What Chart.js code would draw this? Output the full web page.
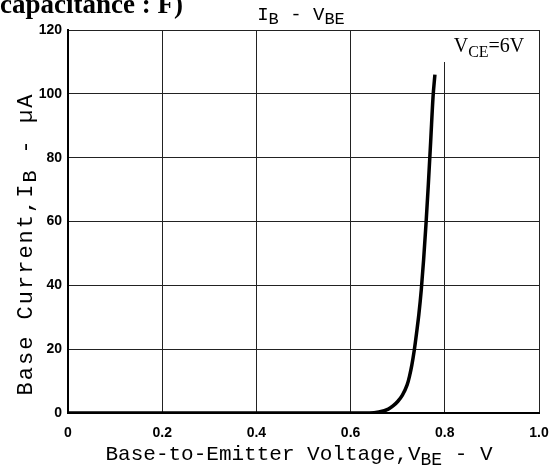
<!DOCTYPE html>
<html>
<head>
<meta charset="utf-8">
<script src="https://cdn.jsdelivr.net/npm/chart.js@4"></script>
<style>
  html, body { margin: 0; padding: 0; background: #fff; }
  canvas { display: block; }
</style>
</head>
<body>
<canvas id="myChart" width="554" height="467"></canvas>
<script>
// IB - VBE curve (VCE = 6V)
var vbe = [0, 0.2, 0.4, 0.6, 0.64, 0.66, 0.68, 0.69, 0.70, 0.71, 0.72, 0.725, 0.73, 0.735, 0.74, 0.745, 0.75, 0.755, 0.76, 0.765, 0.77, 0.775, 0.779];
var ib = [0, 0, 0, 0, 0, 0.3, 1.2, 2.2, 3.6, 5.6, 8.8, 11.5, 15, 19.5, 25, 31, 38.5, 48, 59, 71.5, 85, 99, 106];

var xTicks = [0, 0.2, 0.4, 0.6, 0.8, 1.0];
var yTicks = [0, 20, 40, 60, 80, 100, 120];

var monoFont = '"Liberation Mono", "DejaVu Sans Mono", monospace';
var serifFont = '"Liberation Serif", "DejaVu Serif", serif';
var tickFont = { family: '"Liberation Sans", Arial, sans-serif', size: 14, weight: 'bold' };

// draw a run of text pieces, some of them subscripts
function drawParts(ctx, parts, x, y) {
    var total = 0;
    parts.forEach(function (p) {
        ctx.font = p.font;
        total += ctx.measureText(p.text).width;
    });
    var cx = x - total / 2;
    parts.forEach(function (p) {
        ctx.font = p.font;
        ctx.fillText(p.text, cx, y + (p.dy || 0));
        cx += ctx.measureText(p.text).width;
    });
}

// keep the plot frame where the original has it
function noPadding(s) {
    s.paddingLeft = 0;
    s.paddingRight = 0;
    s.paddingTop = 0;
    s.paddingBottom = 0;
}

var labelsPlugin = {
    id: 'labels',
    afterDraw: function (chart) {
        var ctx = chart.ctx;
        var area = chart.chartArea;
        ctx.save();
        ctx.fillStyle = '#000';
        ctx.textBaseline = 'alphabetic';
        ctx.textAlign = 'left';

        // cropped caption at the very top
        ctx.font = 'bold 27px ' + serifFont;
        ctx.fillText('capacitance : F)', 0, 13);

        // chart title
        drawParts(ctx, [
            { text: 'I', font: '19px ' + monoFont },
            { text: 'B', font: '17px ' + monoFont, dy: 4 },
            { text: ' - V', font: '19px ' + monoFont },
            { text: 'BE', font: '17px ' + monoFont, dy: 4 }
        ], 301, 20);

        // VCE = 6V box
        ctx.fillStyle = '#fff';
        ctx.fillRect(440, area.top + 1, area.right - 441, 31);
        ctx.fillStyle = '#000';
        drawParts(ctx, [
            { text: 'V', font: '20px ' + serifFont },
            { text: 'CE', font: '16px ' + serifFont, dy: 5 },
            { text: '=6V', font: '20px ' + serifFont }
        ], 489, 52);

        // x axis title
        drawParts(ctx, [
            { text: 'Base-to-Emitter Voltage,V', font: '21px ' + monoFont },
            { text: 'BE', font: '18px ' + monoFont, dy: 5 },
            { text: ' - V', font: '21px ' + monoFont }
        ], 299, 460);

        // y axis title
        ctx.translate(32, 244);
        ctx.rotate(-Math.PI / 2);
        ctx.letterSpacing = '2px';
        drawParts(ctx, [
            { text: 'Base Current,I', font: '22px ' + monoFont },
            { text: 'B', font: '20px ' + monoFont, dy: 4 },
            { text: ' - \u00b5A', font: '22px ' + monoFont }
        ], 0, 0);
        ctx.restore();
    }
};

function renderChart() {
    var ctx = document.getElementById('myChart').getContext('2d');
    var myChart = new Chart(ctx, {
        type: 'line',
        data: {
            datasets: [
                {
                    label: 'IB',
                    data: vbe.map(function (v, i) { return { x: v, y: ib[i] }; }),
                    borderColor: '#000',
                    borderWidth: 3.5,
                    pointRadius: 0,
                    fill: false,
                    cubicInterpolationMode: 'monotone'
                }
            ]
        },
        options: {
            responsive: false,
            animation: false,
            devicePixelRatio: 1,
            layout: { padding: { top: 30, right: 15, left: 0, bottom: 0 } },
            plugins: {
                legend: { display: false },
                tooltip: { enabled: false }
            },
            scales: {
                x: {
                    type: 'linear',
                    min: 0,
                    max: 1,
                    afterFit: function (s) { s.height = 54; noPadding(s); },
                    afterBuildTicks: function (s) { s.ticks = xTicks.map(function (v) { return { value: v }; }); },
                    ticks: {
                        color: '#000',
                        padding: 12,
                        maxRotation: 0,
                        font: tickFont,
                        callback: function (v) { return v === 0 ? '0' : v.toFixed(1); }
                    },
                    grid: { color: '#222', lineWidth: 1, drawTicks: false },
                    border: { color: '#000', width: 2 }
                },
                y: {
                    min: 0,
                    max: 120,
                    afterFit: function (s) { s.width = 68; noPadding(s); },
                    afterBuildTicks: function (s) { s.ticks = yTicks.map(function (v) { return { value: v }; }); },
                    ticks: {
                        color: '#000',
                        padding: 6,
                        font: tickFont
                    },
                    grid: { color: '#222', lineWidth: 1, drawTicks: false },
                    border: { color: '#000', width: 2 }
                }
            }
        },
        plugins: [labelsPlugin]
    });
}

renderChart();
</script>
</body>
</html>
